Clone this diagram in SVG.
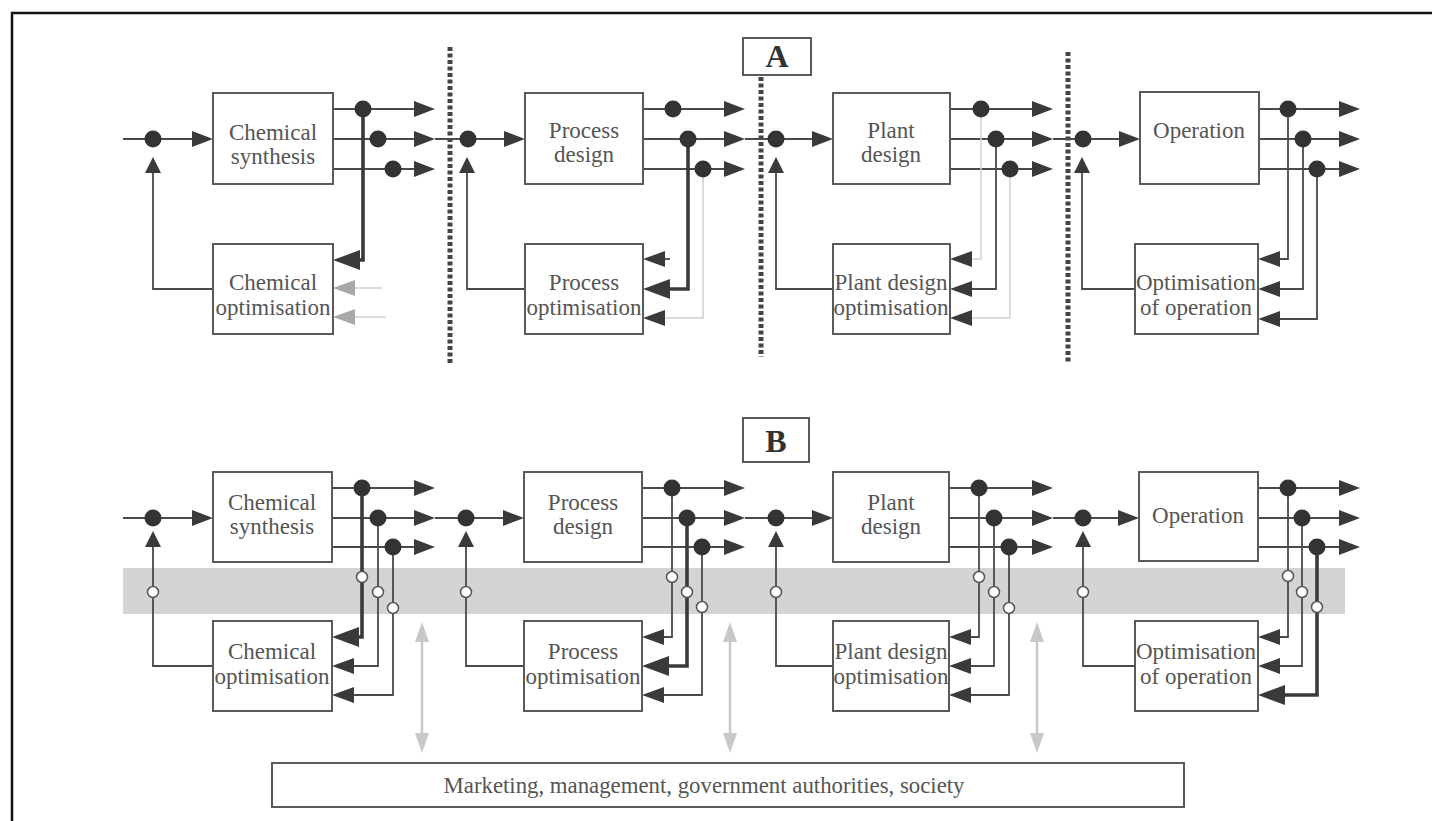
<svg xmlns="http://www.w3.org/2000/svg" width="1432" height="821" viewBox="0 0 1432 821">
<style>
.box{fill:#fff;stroke:#5a5a5a;stroke-width:2}
.lbl{font-family:"Liberation Serif",serif;font-size:23px;fill:#555;text-anchor:middle}
.ttl{font-family:"Liberation Serif",serif;font-size:32px;font-weight:bold;fill:#333;text-anchor:middle}
.ln{fill:none;stroke:#4a4a4a;stroke-width:1.8}
.th{fill:none;stroke:#3a3a3a;stroke-width:3.6}
.fa{fill:none;stroke:#d0d0d0;stroke-width:1.5}
.hd{fill:#3a3a3a}
.gh{fill:#a8a8a8}
.dot{fill:#333}
.oc{fill:#fff;stroke:#555;stroke-width:1.5}
.hatch{stroke:#444;stroke-width:5;stroke-dasharray:4 2.5}
.dbl{stroke:#c8c8c8;stroke-width:2.5;fill:none}
.dblh{fill:#c8c8c8}
</style>
<defs>
<path id="ar" d="M0,0 L-21,-8 L-21,8 Z"/>
<path id="al" d="M0,0 L22,-8 L22,8 Z"/>
<path id="alb" d="M0,0 L27,-10 L27,10 Z"/>
<path id="au" d="M0,0 L-8,16 L8,16 Z"/>
<path id="gu" d="M0,0 L-7,20 L7,20 Z"/>
<path id="gd" d="M0,0 L-7,-20 L7,-20 Z"/>
</defs>
<rect width="1432" height="821" fill="#fff"/>
<path d="M12,821 V13 H1432" fill="none" stroke="#111" stroke-width="2.5"/>

<g id="band"><rect x="123" y="568" width="1222" height="46" fill="#d4d4d4"/></g>

<g id="dividers">
<line class="hatch" x1="450" y1="47" x2="450" y2="365"/>
<line class="hatch" x1="761" y1="77" x2="761" y2="357"/>
<line class="hatch" x1="1068" y1="52" x2="1068" y2="362"/>
</g>

<g id="connectors">
<path class="ln" d="M123,139 H200 M333,109 H420 M333,139 H420 M333,169 H420 M435,139 H468"/>
<path class="th" d="M363,109 V260 H350"/>
<path class="ln" d="M213,289 H153 V170"/>
<path class="fa" d="M352,288 H382 M352,317 H386"/>
<path class="ln" d="M468,139 H512 M643,109 H730 M643,139 H730 M643,169 H730 M745,139 H776"/>
<path class="th" d="M688,139 V289 H660"/>
<path class="ln" d="M660,259 H670"/>
<path class="fa" d="M660,318 H703 V169"/>
<path class="ln" d="M525,289 H467 V170"/>
<path class="ln" d="M776,139 H820 M950,109 H1038 M950,139 H1038 M950,169 H1038 M1053,139 H1083"/>
<path class="ln" d="M996,139 V289 H965"/>
<path class="fa" d="M981,109 V259 H965 M1010,169 V318 H965"/>
<path class="ln" d="M833,289 H776 V170"/>
<path class="ln" d="M1083,139 H1127 M1259,109 H1345 M1259,139 H1345 M1259,169 H1345"/>
<path class="ln" d="M1288,109 V259 H1275 M1303,139 V289 H1275 M1317,169 V319 H1275"/>
<path class="ln" d="M1135,289 H1082 V170"/>
<path class="ln" d="M123,518 H200 M332,488 H420 M332,518 H420 M332,547 H420 M435,518 H466"/>
<path class="th" d="M362,488 V637 H350"/>
<path class="ln" d="M378,518 V666 H350 M393,547 V695 H350"/>
<path class="ln" d="M213,666 H153 V545"/>
<path class="ln" d="M466,518 H511 M642,488 H730 M642,518 H730 M642,547 H730 M745,518 H776"/>
<path class="ln" d="M672,488 V637 H660 M702,547 V695 H660"/>
<path class="th" d="M687,518 V666 H660"/>
<path class="ln" d="M524,666 H466 V545"/>
<path class="ln" d="M776,518 H820 M949,488 H1038 M949,518 H1038 M949,547 H1038 M1053,518 H1083"/>
<path class="ln" d="M979,488 V637 H965 M994,518 V666 H965 M1009,547 V695 H965"/>
<path class="ln" d="M833,666 H776 V545"/>
<path class="ln" d="M1083,518 H1126 M1258,488 H1345 M1258,518 H1345 M1258,547 H1345"/>
<path class="ln" d="M1288,488 V637 H1275 M1302,518 V666 H1275"/>
<path class="th" d="M1317,547 V695 H1275"/>
<path class="ln" d="M1135,666 H1083 V545"/>
<path class="dbl" d="M422,636 V740 M730,636 V740 M1037,636 V740"/>
<g class="dblh">
<use href="#gu" x="422" y="622"/><use href="#gd" x="422" y="753"/>
<use href="#gu" x="730" y="622"/><use href="#gd" x="730" y="753"/>
<use href="#gu" x="1037" y="622"/><use href="#gd" x="1037" y="753"/>
</g>
<g class="hd">
<use href="#ar" x="213" y="139"/><use href="#ar" x="435" y="109"/><use href="#ar" x="435" y="139"/><use href="#ar" x="435" y="169"/>
<use href="#alb" x="333" y="260"/><use href="#au" x="153" y="157"/>
<use href="#ar" x="525" y="139"/><use href="#ar" x="745" y="109"/><use href="#ar" x="745" y="139"/><use href="#ar" x="745" y="169"/>
<use href="#alb" x="643" y="289"/><use href="#al" x="643" y="259"/><use href="#al" x="643" y="318"/><use href="#au" x="467" y="157"/>
<use href="#ar" x="833" y="139"/><use href="#ar" x="1053" y="109"/><use href="#ar" x="1053" y="139"/><use href="#ar" x="1053" y="169"/>
<use href="#al" x="950" y="259"/><use href="#al" x="950" y="289"/><use href="#al" x="950" y="318"/><use href="#au" x="776" y="157"/>
<use href="#ar" x="1140" y="139"/><use href="#ar" x="1360" y="109"/><use href="#ar" x="1360" y="139"/><use href="#ar" x="1360" y="169"/>
<use href="#al" x="1258" y="259"/><use href="#al" x="1258" y="289"/><use href="#al" x="1258" y="319"/><use href="#au" x="1082" y="157"/>
</g>
<g class="gh"><use href="#al" x="333" y="288"/><use href="#al" x="333" y="317"/></g>
<g class="hd">
<use href="#ar" x="213" y="518"/><use href="#ar" x="435" y="488"/><use href="#ar" x="435" y="518"/><use href="#ar" x="435" y="547"/>
<use href="#alb" x="332" y="637"/><use href="#al" x="332" y="666"/><use href="#al" x="332" y="695"/><use href="#au" x="153" y="531"/>
<use href="#ar" x="524" y="518"/><use href="#ar" x="745" y="488"/><use href="#ar" x="745" y="518"/><use href="#ar" x="745" y="547"/>
<use href="#al" x="642" y="637"/><use href="#alb" x="642" y="666"/><use href="#al" x="642" y="695"/><use href="#au" x="466" y="531"/>
<use href="#ar" x="833" y="518"/><use href="#ar" x="1053" y="488"/><use href="#ar" x="1053" y="518"/><use href="#ar" x="1053" y="547"/>
<use href="#al" x="949" y="637"/><use href="#al" x="949" y="666"/><use href="#al" x="949" y="695"/><use href="#au" x="776" y="531"/>
<use href="#ar" x="1139" y="518"/><use href="#ar" x="1360" y="488"/><use href="#ar" x="1360" y="518"/><use href="#ar" x="1360" y="547"/>
<use href="#al" x="1258" y="637"/><use href="#al" x="1258" y="666"/><use href="#alb" x="1258" y="695"/><use href="#au" x="1083" y="531"/>
</g>
<g class="dot">
<circle cx="153" cy="139" r="8.5"/><circle cx="363" cy="109" r="8.5"/><circle cx="378" cy="139" r="8.5"/><circle cx="393" cy="169" r="8.5"/>
<circle cx="468" cy="139" r="8.5"/><circle cx="673" cy="109" r="8.5"/><circle cx="688" cy="139" r="8.5"/><circle cx="703" cy="169" r="8.5"/>
<circle cx="776" cy="139" r="8.5"/><circle cx="981" cy="109" r="8.5"/><circle cx="996" cy="139" r="8.5"/><circle cx="1010" cy="169" r="8.5"/>
<circle cx="1083" cy="139" r="8.5"/><circle cx="1288" cy="109" r="8.5"/><circle cx="1303" cy="139" r="8.5"/><circle cx="1317" cy="169" r="8.5"/>
<circle cx="153" cy="518" r="8.5"/><circle cx="362" cy="488" r="8.5"/><circle cx="378" cy="518" r="8.5"/><circle cx="393" cy="547" r="8.5"/>
<circle cx="466" cy="518" r="8.5"/><circle cx="672" cy="488" r="8.5"/><circle cx="687" cy="518" r="8.5"/><circle cx="702" cy="547" r="8.5"/>
<circle cx="776" cy="518" r="8.5"/><circle cx="979" cy="488" r="8.5"/><circle cx="994" cy="518" r="8.5"/><circle cx="1009" cy="547" r="8.5"/>
<circle cx="1083" cy="518" r="8.5"/><circle cx="1288" cy="488" r="8.5"/><circle cx="1302" cy="518" r="8.5"/><circle cx="1317" cy="547" r="8.5"/>
</g>
<g class="oc">
<circle cx="153" cy="592" r="5.5"/><circle cx="362" cy="577" r="5.5"/><circle cx="378" cy="592" r="5.5"/><circle cx="393" cy="608" r="5.5"/>
<circle cx="466" cy="592" r="5.5"/><circle cx="672" cy="577" r="5.5"/><circle cx="687" cy="592" r="5.5"/><circle cx="702" cy="607" r="5.5"/>
<circle cx="776" cy="592" r="5.5"/><circle cx="979" cy="577" r="5.5"/><circle cx="994" cy="592" r="5.5"/><circle cx="1009" cy="608" r="5.5"/>
<circle cx="1083" cy="592" r="5.5"/><circle cx="1288" cy="576" r="5.5"/><circle cx="1302" cy="592" r="5.5"/><circle cx="1317" cy="607" r="5.5"/>
</g>
</g>

<g id="labelA"><rect class="box" x="743" y="38" width="68" height="37" stroke="#333"/><text class="ttl" x="777" y="67">A</text></g>
<g id="labelB"><rect class="box" x="743" y="418" width="66" height="44" stroke="#333"/><text class="ttl" x="776" y="452">B</text></g>

<g id="a-chem-synth"><rect class="box" x="213" y="93" width="120" height="91"/><text class="lbl" x="273" y="140">Chemical</text><text class="lbl" x="273" y="164">synthesis</text></g>
<g id="a-chem-opt"><rect class="box" x="213" y="244" width="120" height="90"/><text class="lbl" x="273" y="290">Chemical</text><text class="lbl" x="273" y="315">optimisation</text></g>
<g id="a-proc-design"><rect class="box" x="525" y="93" width="118" height="91"/><text class="lbl" x="584" y="138">Process</text><text class="lbl" x="584" y="162">design</text></g>
<g id="a-proc-opt"><rect class="box" x="525" y="244" width="118" height="90"/><text class="lbl" x="584" y="290">Process</text><text class="lbl" x="584" y="315">optimisation</text></g>
<g id="a-plant-design"><rect class="box" x="833" y="93" width="117" height="91"/><text class="lbl" x="891" y="138">Plant</text><text class="lbl" x="891" y="162">design</text></g>
<g id="a-plant-opt"><rect class="box" x="833" y="244" width="117" height="90"/><text class="lbl" x="891" y="290">Plant design</text><text class="lbl" x="891" y="315">optimisation</text></g>
<g id="a-operation"><rect class="box" x="1140" y="92" width="119" height="92"/><text class="lbl" x="1199" y="138">Operation</text></g>
<g id="a-oper-opt"><rect class="box" x="1135" y="244" width="123" height="90"/><text class="lbl" x="1196" y="290">Optimisation</text><text class="lbl" x="1196" y="315">of operation</text></g>

<g id="b-chem-synth"><rect class="box" x="213" y="472" width="119" height="90"/><text class="lbl" x="272" y="510">Chemical</text><text class="lbl" x="272" y="534">synthesis</text></g>
<g id="b-chem-opt"><rect class="box" x="213" y="621" width="119" height="90"/><text class="lbl" x="272" y="659">Chemical</text><text class="lbl" x="272" y="684">optimisation</text></g>
<g id="b-proc-design"><rect class="box" x="524" y="472" width="118" height="90"/><text class="lbl" x="583" y="510">Process</text><text class="lbl" x="583" y="534">design</text></g>
<g id="b-proc-opt"><rect class="box" x="524" y="621" width="118" height="90"/><text class="lbl" x="583" y="659">Process</text><text class="lbl" x="583" y="684">optimisation</text></g>
<g id="b-plant-design"><rect class="box" x="833" y="472" width="116" height="90"/><text class="lbl" x="891" y="510">Plant</text><text class="lbl" x="891" y="534">design</text></g>
<g id="b-plant-opt"><rect class="box" x="833" y="621" width="116" height="90"/><text class="lbl" x="891" y="659">Plant design</text><text class="lbl" x="891" y="684">optimisation</text></g>
<g id="b-operation"><rect class="box" x="1139" y="472" width="119" height="89"/><text class="lbl" x="1198" y="523">Operation</text></g>
<g id="b-oper-opt"><rect class="box" x="1135" y="621" width="123" height="90"/><text class="lbl" x="1196" y="659">Optimisation</text><text class="lbl" x="1196" y="684">of operation</text></g>

<g id="marketing"><rect class="box" x="272" y="763" width="912" height="44" stroke="#777"/><text class="lbl" x="704" y="793" font-size="19" textLength="521" lengthAdjust="spacingAndGlyphs">Marketing, management, government authorities, society</text></g>
</svg>
